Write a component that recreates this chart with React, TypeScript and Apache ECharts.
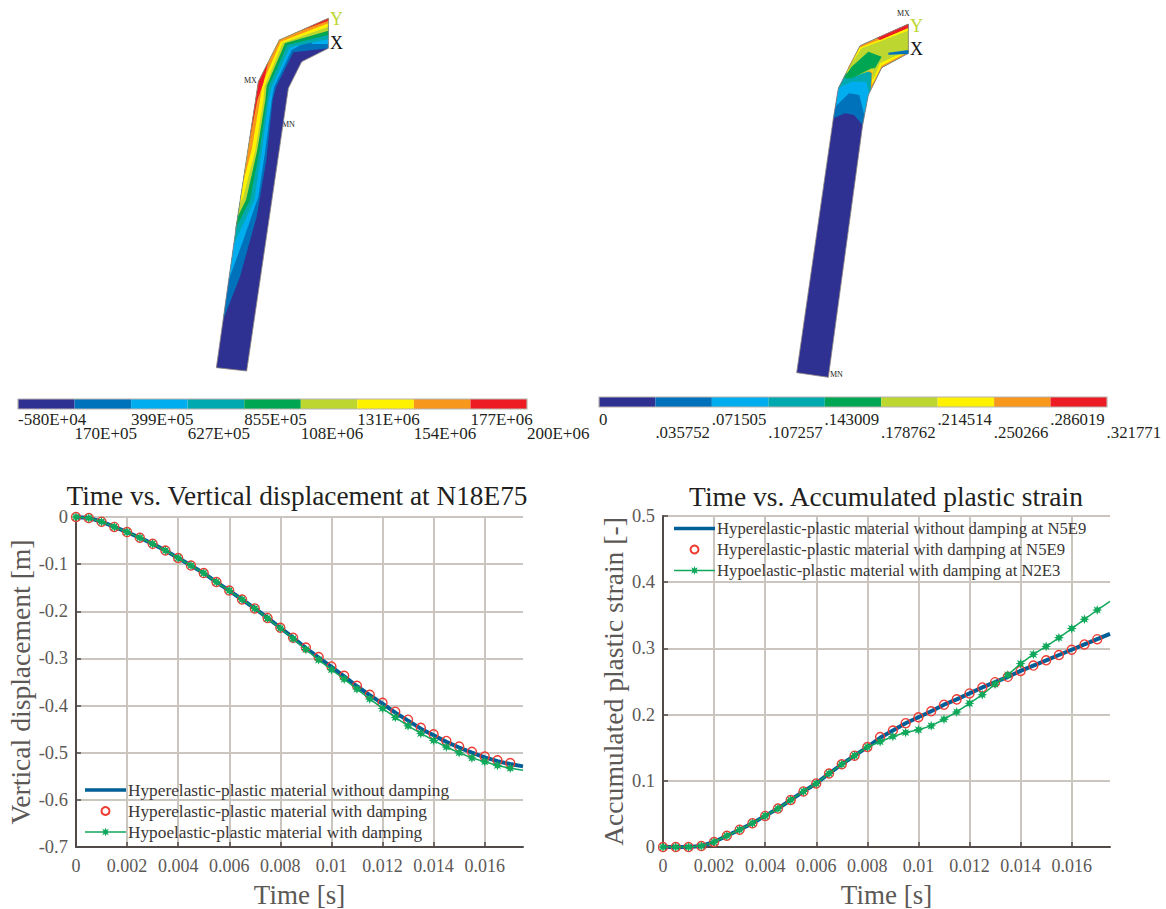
import React, { useEffect, useRef } from "react";
import * as echarts from "echarts";

const FONT = "Liberation Serif";

// --- curve data ---
const timeMarkers = [0,0.0005,0.001,0.0015,0.002,0.0025,0.003,0.0035,0.004,0.0045,0.005,0.0055,0.006,0.0065,0.007,0.0075,0.008,0.0085,0.009,0.0095,0.01,0.0105,0.011,0.0115,0.012,0.0125,0.013,0.0135,0.014,0.0145,0.015,0.0155,0.016,0.0165,0.017];
const timeLine = [...timeMarkers, 0.0175];
const xTicks = [0,0.002,0.004,0.006,0.008,0.01,0.012,0.014,0.016];

const dispHyperNoDamp = [0,-0.002,-0.01,-0.021,-0.032,-0.044,-0.057,-0.071,-0.087,-0.103,-0.119,-0.138,-0.156,-0.175,-0.194,-0.214,-0.235,-0.256,-0.278,-0.298,-0.318,-0.338,-0.359,-0.378,-0.396,-0.415,-0.432,-0.449,-0.463,-0.477,-0.489,-0.5,-0.51,-0.518,-0.524,-0.529];
const dispHyperDamp = [0,-0.002,-0.01,-0.021,-0.032,-0.044,-0.057,-0.071,-0.087,-0.103,-0.119,-0.138,-0.156,-0.175,-0.194,-0.214,-0.235,-0.256,-0.277,-0.297,-0.317,-0.337,-0.358,-0.377,-0.394,-0.413,-0.43,-0.447,-0.461,-0.475,-0.487,-0.498,-0.508,-0.516,-0.522];
const dispHypo = [0,-0.002,-0.01,-0.021,-0.032,-0.044,-0.057,-0.071,-0.087,-0.103,-0.119,-0.138,-0.156,-0.175,-0.194,-0.215,-0.236,-0.258,-0.281,-0.303,-0.324,-0.344,-0.365,-0.386,-0.406,-0.425,-0.443,-0.459,-0.474,-0.488,-0.5,-0.511,-0.519,-0.527,-0.533,-0.537];

const strainHyperNoDamp = [0,0,0,0.0015,0.0076,0.017,0.026,0.036,0.047,0.058,0.071,0.084,0.096,0.111,0.125,0.138,0.151,0.165,0.176,0.187,0.196,0.205,0.215,0.223,0.232,0.241,0.249,0.257,0.266,0.274,0.282,0.29,0.298,0.306,0.314,0.322];
const strainHyperDamp = [0,0,0,0.0015,0.0076,0.017,0.026,0.036,0.047,0.058,0.071,0.084,0.096,0.111,0.125,0.138,0.151,0.166,0.176,0.187,0.196,0.205,0.215,0.223,0.232,0.241,0.249,0.257,0.266,0.274,0.282,0.29,0.298,0.306,0.314];
const strainHypo = [0,0,0,0.0015,0.0076,0.017,0.026,0.036,0.047,0.058,0.071,0.084,0.096,0.111,0.125,0.138,0.151,0.159,0.167,0.173,0.177,0.183,0.193,0.204,0.217,0.23,0.246,0.26,0.277,0.291,0.303,0.316,0.33,0.344,0.358,0.371];

const legendNamesLeft = ["Hyperelastic-plastic material without damping","Hyperelastic-plastic material with damping","Hypoelastic-plastic material with damping"];
const legendNamesRight = ["Hyperelastic-plastic material without damping at N5E9","Hyperelastic-plastic material with damping at N5E9","Hypoelastic-plastic material with damping at N2E3"];

// --- contour legends ---
const bandColors = ["#2e3192","#0072bc","#00aeef","#00a9b0","#00a651","#bdd630","#fff200","#f7981d","#ed1c24"];
const stressLabels = ["-580E+04","170E+05","399E+05","627E+05","855E+05","108E+06","131E+06","154E+06","177E+06","200E+06"];
const strainLabels = ["0",".035752",".071505",".107257",".143009",".178762",".214514",".250266",".286019",".321771"];

// --- contour plot outlines (in 3x crop units) ---
const stressOutline = [[385,55],[238,120],[175,245],[113,650],[49,1103],[140,1113],[265,265],[305,185],[385,145]];
const upper1 = [[113,650],[175,245],[238,120],[385,55]];
const upper2 = [[175,245],[238,120],[385,55]];
const stressBands: [string, number[][]][] = [
  ["#0072bc", [[69,960],...upper1,[385,145],[280,157],[228,262],[218,300],[199,480],[170,650],[120,830]]],
  ["#00aeef", [[86,840],...upper1,[385,132],[335,132],[345,110],[320,125],[275,150],[222,262],[215,300],[196,450],[175,590],[130,720]]],
  ["#00a9b0", [[101,735],...upper1,[385,118],[270,142],[215,262],[206,300],[186,450],[163,600]]],
  ["#00a651", [[105,690],...upper1,[385,105],[262,135],[207,258],[201,300],[179,450],[150,600]]],
  ["#bdd630", [[113,650],...upper2,[385,92],[255,130],[200,258],[196,300],[172,450],[138,600]]],
  ["#fff200", [[119,615],...upper2,[385,80],[248,128],[194,258],[190,300],[166,450],[130,590]]],
  ["#f7981d", [[130,545],...upper2,[385,70],[242,125],[188,250],[180,300],[155,450]]],
  ["#ed1c24", [[147,430],[175,245],[205,185],[190,250],[172,300]]],
  ["#ed1c24", [[300,93],[385,55],[385,62]]],
];
const strainOutline = [[385,72],[240,137],[175,265],[160,355],[50,1118],[145,1132],[248,375],[265,285],[305,203],[385,160]];
const strainBands: [string, number[][]][] = [
  ["#0072bc", [[160,355],[195,340],[222,345],[248,375],[265,285],[305,203],[385,160],[385,72],[240,137],[175,265]]],
  ["#00aeef", [[168,318],[207,280],[238,285],[253,345],[265,285],[305,203],[385,160],[385,72],[240,137],[175,265]]],
  ["#00a9b0", [[175,265],[215,245],[258,245],[267,280],[305,203],[385,160],[385,72],[240,137]]],
  ["#f7981d", [[203,205],[240,137],[385,72],[385,160],[305,203],[285,245],[272,270],[275,220],[240,200]]],
  ["#fff200", [[196,222],[238,143],[385,85],[385,155],[305,197],[287,235],[275,255],[278,215],[230,205]]],
  ["#bdd630", [[205,205],[245,145],[385,92],[385,150],[300,190],[283,230],[278,240],[278,210],[215,232]]],
  ["#00a651", [[190,235],[215,200],[265,155],[305,170],[285,205],[275,205],[215,235]]],
  ["#ed1c24", [[290,113],[385,72],[385,83],[300,120]]],
];

const GRID = "#cbc5c0";
const AXIS = "#504b48";
const TICK_TEXT = "#5c5856";
const TITLE_TEXT = "#231f20";

function starPoints(cx: number, cy: number, R: number): string {
  const pts: string[] = [];
  for (let i = 0; i < 16; i++) {
    const r = i % 2 === 0 ? R : R * 0.5;
    const a = (i * Math.PI) / 8 - Math.PI / 2;
    pts.push(`${i === 0 ? "M" : "L"}${(cx + r * Math.cos(a)).toFixed(2)} ${(cy + r * Math.sin(a)).toFixed(2)}`);
  }
  return pts.join(" ") + "Z";
}
const boxMarks = "M0 0L0.01 0L0.01 0.01Z M41 10L40.99 10L41 9.99Z";
const blueLegendIcon = `path://${boxMarks} M0 3.25H41V6.75H0Z`;
const greenLegendIcon = `path://${boxMarks} M0 4.25H41V5.75H0Z ${starPoints(20.5, 5, 4.5)}`;

function crop(ox: number, pts: number[][]) {
  return pts.map(([x, y]) => [ox + x / 3, y / 3]);
}

type Shape = { fill: string; stroke?: string; width?: number; points: number[][] };

function colorBar(x0: number, x1: number, y0: number, y1: number): Shape[] {
  const w = (x1 - x0) / bandColors.length;
  const out: Shape[] = bandColors.map((c, i) => ({
    fill: c,
    points: [[x0 + i * w, y0],[x0 + (i + 1) * w, y0],[x0 + (i + 1) * w, y1],[x0 + i * w, y1]],
  }));
  out.push({ fill: "transparent", stroke: "#b8b3af", width: 1.2, points: [[x0,y0],[x1,y0],[x1,y1],[x0,y1]] });
  return out;
}

const shapes: Shape[] = [
  { fill: "#2e3192", points: crop(200, stressOutline) },
  ...stressBands.map(([fill, p]) => ({ fill, points: crop(200, p) })),
  { fill: "transparent", stroke: "#8f867f", width: 0.8, points: crop(200, stressOutline) },
  { fill: "#2e3192", points: crop(780, strainOutline) },
  ...strainBands.map(([fill, p]) => ({ fill, points: crop(780, p) })),
  { fill: "transparent", stroke: "#8f867f", width: 0.8, points: crop(780, strainOutline) },
  { fill: "#0072bc", points: crop(780, [[325,158],[385,150],[385,162],[325,164]]) },
  ...colorBar(18, 527, 399, 409),
  ...colorBar(599, 1107, 397, 407),
];

function text(t: string, x: number, y: number, size: number, fill = "#231f20", align = "left") {
  return {
    type: "text", x, y, silent: true,
    style: { text: t, fill, font: `${size}px "${FONT}"`, align, verticalAlign: "middle" },
  };
}

function curveSeries(names: string[], blue: number[], red: number[], green: number[], ax: number) {
  const star = "path://" + starPoints(0, 0, 10);
  return [
    {
      name: names[0], type: "line", xAxisIndex: ax, yAxisIndex: ax, symbol: "none",
      lineStyle: { color: "#005f96", width: 4 }, itemStyle: { color: "#005f96" },
      data: timeLine.map((t, i) => [t, blue[i]]), z: 3,
    },
    {
      name: names[1], type: "line", xAxisIndex: ax, yAxisIndex: ax, symbol: "circle", symbolSize: 9,
      showAllSymbol: true,
      lineStyle: { width: 0, opacity: 0 },
      itemStyle: { color: "rgba(255,255,255,0)", borderColor: "#ef3b32", borderWidth: 1.4 },
      data: timeMarkers.map((t, i) => [t, red[i]]), z: 4,
    },
    {
      name: names[2], type: "line", xAxisIndex: ax, yAxisIndex: ax,
      symbol: (v: number[]) => (v[0] > 0.0171 ? "none" : star), symbolSize: 10,
      showAllSymbol: true,
      lineStyle: { color: "#10a85a", width: 1.5 }, itemStyle: { color: "#10a85a" },
      data: timeLine.map((t, i) => [t, green[i]]), z: 5,
    },
  ];
}

function xAxis(gridIndex: number) {
  return {
    type: "value", gridIndex, min: 0, max: 0.0175,
    axisLine: { show: true, onZero: false, lineStyle: { color: AXIS, width: 2 } },
    axisTick: { show: true, inside: true, length: 5, customValues: xTicks, lineStyle: { color: AXIS, width: 1.5 } },
    axisLabel: { customValues: xTicks, margin: 10, fontFamily: FONT, fontSize: 18, color: TICK_TEXT, formatter: (v: number) => String(v) },
    splitLine: { show: true, lineStyle: { color: GRID, width: 2 } },
    name: "Time [s]", nameLocation: "middle", nameGap: 34,
    nameTextStyle: { fontFamily: FONT, fontSize: 27, color: TICK_TEXT },
  };
}

function yAxis(gridIndex: number, min: number, max: number, name: string, gap: number) {
  return {
    type: "value", gridIndex, min, max, interval: 0.1,
    axisLine: { show: true, onZero: false, lineStyle: { color: AXIS, width: 2 } },
    axisTick: { show: true, inside: true, length: 5, lineStyle: { color: AXIS, width: 1.5 } },
    axisLabel: { margin: 8, fontFamily: FONT, fontSize: 18.5, color: TICK_TEXT, formatter: (v: number) => String(Math.round(v * 10) / 10) },
    splitLine: { show: true, lineStyle: { color: GRID, width: 2 } },
    name, nameLocation: "middle", nameGap: gap,
    nameTextStyle: { fontFamily: FONT, fontSize: 27.6, color: TICK_TEXT },
  };
}

function legend(names: string[], left: number, top: number, size: number) {
  return {
    data: [
      { name: names[0], icon: blueLegendIcon },
      { name: names[1] },
      { name: names[2], icon: greenLegendIcon },
    ],
    left, top, orient: "vertical", itemWidth: 41, itemHeight: 10, itemGap: 4,
    padding: 0, selectedMode: false,
    textStyle: { fontFamily: FONT, fontSize: size, color: "#3a3634", padding: [0, 0, 0, -3] },
  };
}

export default function App() {
  const ref = useRef<HTMLDivElement>(null);
  useEffect(() => {
    if (!ref.current) return;
    const chart = echarts.init(ref.current, undefined, { renderer: "svg" });
    const labels: any[] = [];
    stressLabels.forEach((t, i) => labels.push(text(t, 18 + i * 56.55, i % 2 ? 433.5 : 419, 17)));
    strainLabels.forEach((t, i) => labels.push(text(t, 599 + i * 56.4, i % 2 ? 432 : 419, 16.8)));
    labels.push(
      text("Y", 330, 19, 18, "#bdd630"), text("X", 330, 43, 18, "#111"),
      text("MX", 244, 80, 8), text("MN", 282, 124, 8),
      text("Y", 910, 26, 18, "#bdd630"), text("X", 910, 49, 18, "#111"),
      text("Z", 885, 48, 18, "#0072bc"),
      text("MX", 897, 13, 8), text("MN", 830, 374, 8),
    );
    chart.setOption({
      animation: false,
      backgroundColor: "#fff",
      title: [
        { text: "Time vs. Vertical displacement at N18E75", left: 297, top: 482, textAlign: "center", padding: 0, textStyle: { fontFamily: FONT, fontSize: 27.3, fontWeight: "normal", color: TITLE_TEXT } },
        { text: "Time vs. Accumulated plastic strain", left: 886, top: 482, textAlign: "center", padding: 0, textStyle: { fontFamily: FONT, fontSize: 27.5, fontWeight: "normal", color: TITLE_TEXT } },
      ],
      legend: [legend(legendNamesLeft, 85, 781.5, 17.3), legend(legendNamesRight, 674, 520, 16.7)],
      grid: [
        { left: 76, top: 517, width: 447, height: 330, outerBoundsMode: "none" },
        { left: 663, top: 516, width: 447, height: 331, outerBoundsMode: "none" },
        { left: 0, top: 0, width: 1166, height: 909, show: false, outerBoundsMode: "none" },
      ],
      xAxis: [xAxis(0), xAxis(1), { type: "value", gridIndex: 2, min: 0, max: 1166, show: false }],
      yAxis: [
        yAxis(0, -0.7, 0, "Vertical displacement [m]", 40),
        yAxis(1, 0, 0.5, "Accumulated plastic strain [-]", 36),
        { type: "value", gridIndex: 2, min: 0, max: 909, inverse: true, show: false },
      ],
      series: [
        ...curveSeries(legendNamesLeft, dispHyperNoDamp, dispHyperDamp, dispHypo, 0),
        ...curveSeries(legendNamesRight, strainHyperNoDamp, strainHyperDamp, strainHypo, 1),
        {
          type: "custom", xAxisIndex: 2, yAxisIndex: 2, silent: true, clip: false, z: 1,
          data: shapes.map((_, i) => [i, i]),
          renderItem: (params: any, api: any) => {
            const s = shapes[params.dataIndex];
            return {
              type: "polygon",
              shape: { points: s.points.map((p) => api.coord(p)) },
              style: { fill: s.fill, stroke: s.stroke ?? "none", lineWidth: s.width ?? 0 },
            };
          },
        },
      ],
      graphic: { elements: labels },
    });
    return () => chart.dispose();
  }, []);
  return <div ref={ref} style={{ position: "absolute", left: 0, top: 0, width: 1166, height: 909 }} />;
}
